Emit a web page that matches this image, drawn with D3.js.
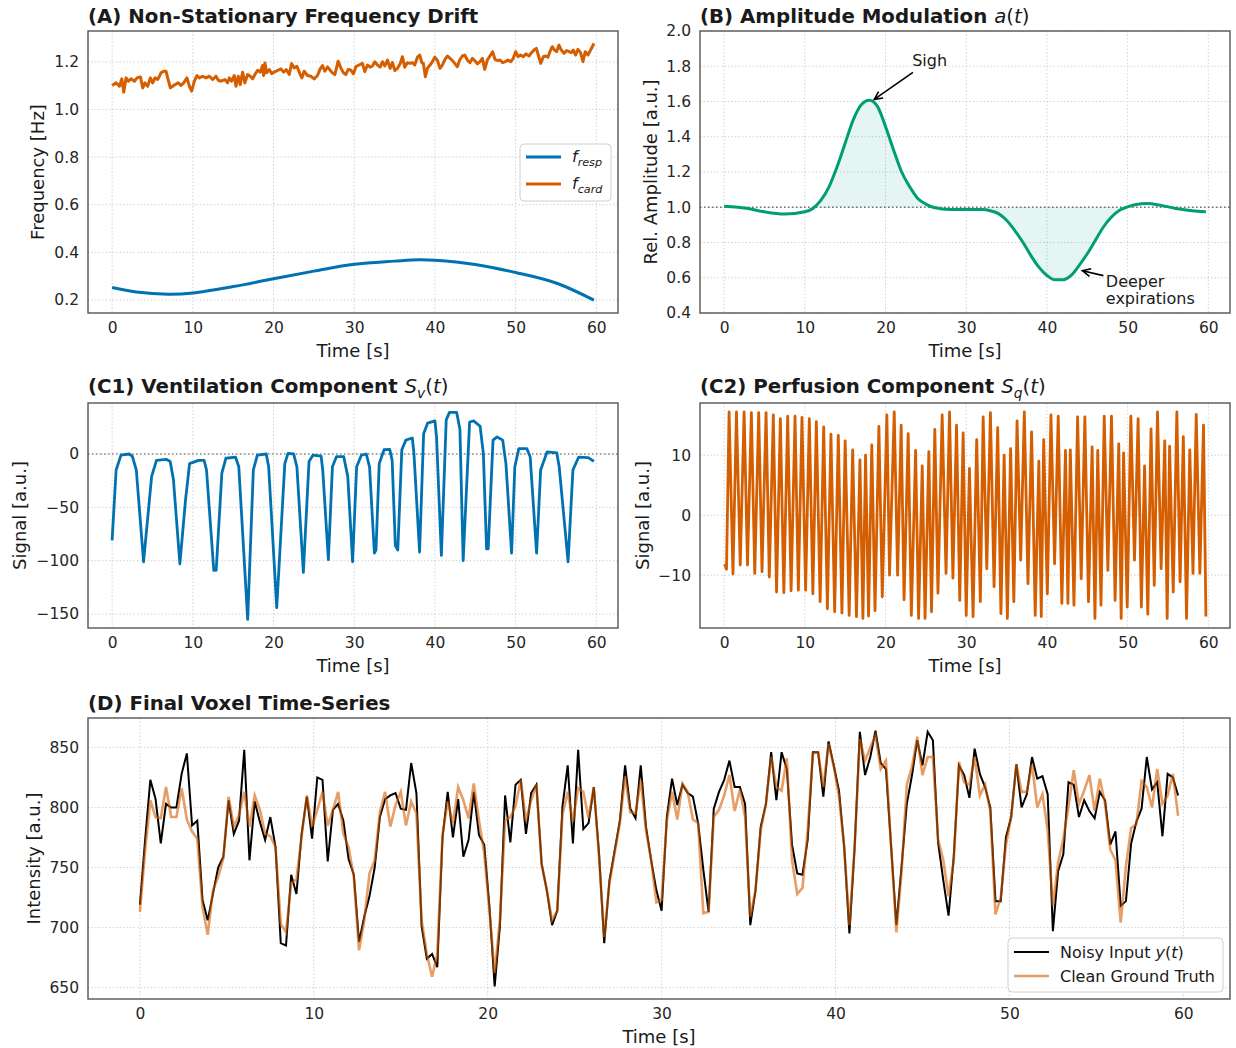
<!DOCTYPE html>
<html>
<head>
<meta charset="utf-8">
<script src="https://cdn.jsdelivr.net/npm/d3@7"></script>
<style>
  body { margin: 0; background: #fff; }
  text { font-family: "DejaVu Sans", sans-serif; fill: #1a1a1a; }
</style>
</head>
<body>
<div id="chart"></div>
<script>
// ---------- data ----------
var timeTicks = [0, 10, 20, 30, 40, 50, 60];

// (A) respiratory frequency, smooth drift
var respT = [0, 3, 7, 10, 15, 20, 25, 30, 35, 38, 40, 45, 50, 55, 59.7];
var respF = [0.252, 0.233, 0.224, 0.229, 0.256, 0.289, 0.321, 0.350, 0.363, 0.369, 0.367, 0.349, 0.315, 0.271, 0.199];

// (A) cardiac frequency, noisy drift
var cardT = [0.0,0.5,0.91,1.2,1.44,1.73,2.02,2.35,2.77,3.09,
  3.51,3.8,4.08,4.41,4.74,5.03,5.32,5.65,6.06,6.39,
  6.68,6.89,7.22,7.51,7.8,8.21,8.54,8.87,9.28,9.57,
  9.86,10.19,10.52,10.81,11.22,11.63,12.05,12.46,12.87,13.16,
  13.49,13.99,14.31,14.52,14.81,15.14,15.35,15.64,15.88,16.17,
  16.46,16.79,17.12,17.41,17.7,18.03,18.36,18.65,18.77,18.94,
  19.15,19.48,19.76,20.09,20.5,20.92,21.25,21.58,21.95,22.24,
  22.57,22.9,23.23,23.51,23.8,24.21,24.63,25.04,25.45,25.78,
  26.07,26.36,26.69,27.02,27.31,27.6,28.01,28.34,28.67,28.96,
  29.24,
  29.58,29.91,30.2,30.61,31.02,31.31,31.64,31.97,32.26,32.55,
  32.88,33.21,33.5,33.79,34.12,34.45,34.74,35.03,35.36,35.69,
  35.97,36.26,36.59,36.92,37.21,37.5,37.83,38.12,38.37,38.57,
  38.82,39.07,39.4,39.69,39.98,40.31,40.63,40.92,41.21,41.54,
  41.87,42.16,42.45,42.78,43.07,43.4,43.69,44.02,44.35,44.64,
  44.93,45.26,45.59,45.88,46.17,46.5,46.82,47.15,47.44,47.73,
  48.06,48.39,48.72,49.05,49.38,49.71,50.0,50.29,50.62,50.95,
  51.28,51.65,51.98,52.27,52.56,52.81,53.1,53.43,53.72,54.0,
  54.25,54.54,54.83,55.08,55.37,55.66,55.99,56.32,56.61,56.9,
  57.14,57.43,57.72,58.05,58.34,58.63,58.96,59.29,59.5,59.7];
var cardF = [1.101,1.112,1.098,1.129,1.073,1.133,1.119,1.129,1.119,1.133,
  1.137,1.091,1.112,1.098,1.133,1.112,1.133,1.126,1.154,1.161,
  1.161,1.133,1.091,1.098,1.105,1.112,1.101,1.112,1.133,1.098,
  1.077,1.119,1.143,1.133,1.14,1.133,1.14,1.126,1.14,1.123,
  1.119,1.126,1.112,1.133,1.119,1.143,1.098,1.14,1.105,1.157,
  1.112,1.147,1.14,1.129,1.147,1.165,1.157,1.185,1.143,1.196,
  1.154,1.168,1.151,1.157,1.164,1.171,1.157,1.168,1.147,1.193,
  1.175,1.182,1.154,1.133,1.161,1.143,1.14,1.129,1.143,1.171,
  1.185,1.161,1.179,1.165,1.154,1.147,1.203,1.175,1.154,1.147,
  1.168,
  1.166,1.15,1.18,1.187,1.194,1.159,1.187,1.178,1.183,1.201,
  1.187,1.178,1.201,1.183,1.208,1.173,1.197,1.164,1.173,1.192,
  1.222,1.178,1.197,1.194,1.197,1.187,1.22,1.229,1.197,1.194,
  1.138,1.173,1.187,1.201,1.22,1.206,1.173,1.187,1.208,1.225,
  1.215,1.206,1.194,1.18,1.208,1.225,1.229,1.208,1.197,1.215,
  1.206,1.192,1.201,1.215,1.169,1.208,1.225,1.243,1.211,1.206,
  1.208,1.197,1.201,1.208,1.201,1.215,1.243,1.222,1.229,1.222,
  1.234,1.225,1.239,1.25,1.257,1.229,1.194,1.222,1.225,1.22,
  1.243,1.264,1.25,1.243,1.271,1.25,1.236,1.248,1.243,1.239,
  1.25,1.229,1.253,1.239,1.201,1.243,1.229,1.25,1.264,1.278];

// (B) amplitude modulation a(t)
var ampT = [0,3,5,7.5,10,11,12,13,14,15,16,17,18,19,20,21,22,23,24,25,26,28,30,32,33,
  34,35,36,37,38,39,40,41,42,43,44,45,46,47,48,49,50,51,52.5,54,56,58,59.7];
var ampV = [1.006,0.993,0.974,0.961,0.974,0.993,1.04,1.116,1.23,1.363,1.496,1.582,1.607,1.572,1.458,
  1.325,1.20,1.116,1.05,1.018,0.999,0.987,0.987,0.987,0.98,0.964,0.926,0.869,0.803,0.727,
  0.66,0.613,0.588,0.588,0.613,0.67,0.736,0.812,0.888,0.945,0.983,1.002,1.016,1.021,1.012,
  0.993,0.98,0.974];
var sighRange = [10.8, 27];
var expRange = [32, 50.5];

// (C1) ventilation component, key vertices
var ventT = [0,0.5,1.1,2.1,2.5,3.0,3.9,4.9,5.5,6.7,7.2,7.6,8.4,9.1,9.6,10.7,11.4,11.7,12.6,12.9,
  13.6,14.1,15.3,15.7,16.8,17.5,18.0,19.1,19.4,20.4,21.4,21.8,22.5,22.9,23.7,24.4,24.9,25.9,26.1,26.8,
  27.3,27.8,28.7,29.2,29.8,30.3,30.9,31.5,31.9,32.5,32.7,33.1,33.7,34.4,34.7,35.1,35.4,35.9,36.4,37.2,
  37.4,38.1,38.6,39.1,40.0,40.2,40.8,41.4,41.8,42.7,43.1,43.5,44.3,44.8,45.6,46.0,46.4,46.6,47.2,47.7,
  48.4,48.8,49.5,49.9,50.4,51.4,51.8,52.6,53.1,53.9,55.1,55.4,56.5,57.1,57.8,59.0,59.7];
var ventV = [-81,-15,-1,0,-2,-15,-101,-21,-6,-5,-7,-24,-103,-43,-9,-6,-6,-15,-109,-109,
  -18,-4,-3,-12,-155,-15,-1,0,-12,-144,-9,0.6,0,-12,-111,-7,-1,-2,-15,-99,
  -12,-2.5,-2.5,-21,-101,-12,-1,0,-12,-93,-90,-9,4,4.4,-6,-86,-90,4,13,15,
  0.6,-92,19,29,31,16,-95,32,39,39,23,-100,30,31,26,0.6,-89,-89,13,16,
  13,-9,-93,-12,5,5,-2.5,-93,-15,2,1,-12,-101,-15,-3,-3.4,-7];

// (C2) perfusion component, successive peaks and troughs
var perfT = [0,0.15,0.3,0.62,1.1,1.53,2.0,2.48,2.9,3.38,3.8,4.29,4.7,5.2,5.6,6.1,6.5,6.97,7.4,7.88,
  8.3,8.79,9.2,9.65,10.1,10.56,11.0,11.43,11.9,12.34,12.8,13.24,13.7,14.15,14.6,15.0,15.5,15.93,16.4,16.83,
  17.2,17.53,17.9,18.3,18.7,19.18,19.6,20.17,20.5,21.08,21.5,21.94,22.3,22.81,23.2,23.73,24.1,24.55,24.9,25.37,
  25.7,26.11,26.5,27.02,27.5,27.93,28.35,28.8,29.2,29.62,30.0,30.4,30.85,31.3,31.75,32.1,32.55,33.0,33.45,33.9,
  34.3,34.7,35.1,35.5,35.9,36.3,36.75,37.2,37.65,38.1,38.55,39.0,39.3,39.6,40.05,40.5,40.95,41.4,41.85,42.3,
  42.6,42.9,43.35,43.8,44.25,44.7,45.15,45.6,45.95,46.3,46.7,47.1,47.55,48.0,48.45,48.9,49.2,49.5,49.95,50.4,
  50.85,51.3,51.7,52.1,52.5,52.9,53.3,53.7,54.15,54.6,54.9,55.2,55.65,56.1,56.5,56.9,57.3,57.7,58.1,58.5,
  58.95,59.4,59.7];
var perfV = [-8.2,-8.4,-9.0,17.2,-9.8,17.2,-8.3,17.2,-8.3,17.1,-9.7,17.1,-9.4,17.1,-10.3,16.7,-12.8,16.1,-12.9,16.5,
  -12.6,16.5,-12.5,16.3,-12.5,16.1,-13.1,15.6,-14.4,14.7,-15.6,13.5,-16.1,13.3,-16.3,12.4,-16.7,10.9,-16.9,9.2,
  -17.2,10.0,-16.8,11.7,-15.9,14.8,-13.6,16.7,-10.0,17.2,-10.0,15.0,-14.1,13.6,-16.7,10.8,-17.2,8.2,-17.2,10.6,
  -16.1,14.3,-13.0,16.7,-9.7,17.2,-10.5,15.0,-14.2,13.7,-16.7,7.8,-16.9,12.6,-14.4,16.4,-8.9,17.1,-11.9,14.6,
  -16.4,10.0,-17.2,11.1,-14.4,15.7,-7.5,17.2,-11.4,13.9,-16.7,9.0,-16.9,12.6,-13.1,16.7,-8.1,16.5,-14.7,10.8,
  -14.7,10.9,-15.0,16.4,-10.6,16.4,-14.4,11.4,-17.2,10.8,-15.0,16.5,-9.2,16.5,-14.2,11.9,-17.2,10.4,-15.3,16.5,
  -7.5,16.1,-15.3,8.2,-16.5,14.4,-11.7,17.2,-8.9,12.4,-17.2,11.5,-12.8,17.2,-11.1,13.1,-17.2,10.9,-9.7,16.8,
  -9.7,15.0,-16.9];

// (D) voxel time-series, one sample every 0.3 s
var sampleStep = 0.3;
var noisyY = [719,773,823,807,770,803,800,800,828,845,785,789,723,706,728,750,759,806,778,789,
  848,756,805,788,773,792,767,687,685,744,728,778,809,774,825,823,755,798,803,789,
  757,744,688,709,726,750,792,807,810,812,799,798,837,812,701,674,678,667,775,813,
  775,807,759,773,813,777,769,717,651,701,810,771,819,823,778,812,819,753,731,702,
  714,801,835,770,848,782,787,817,762,687,739,764,789,835,799,791,835,784,756,731,
  714,792,824,802,819,812,809,787,748,713,799,813,823,839,817,817,803,702,731,784,
  803,846,806,846,832,769,745,744,773,846,846,809,855,835,814,767,695,767,863,827,
  842,864,837,832,767,702,751,803,827,856,835,863,856,771,739,710,759,835,827,808,
  849,828,817,800,722,722,775,792,836,800,811,842,824,826,811,697,747,761,821,819,
  792,806,797,791,813,806,769,780,718,722,770,788,799,842,815,821,776,828,825,810];
var cleanY = [713,764,806,792,791,817,792,792,816,790,780,774,717,694,731,742,758,809,784,794,
  813,784,810,798,778,776,767,703,696,737,740,776,810,784,798,813,785,798,813,778,
  767,742,681,706,745,756,796,813,784,802,813,785,805,795,706,678,659,678,777,805,
  787,817,806,791,820,789,762,714,662,706,789,792,801,823,789,806,819,753,731,706,
  714,794,813,788,816,813,791,817,759,692,737,762,787,826,796,795,823,781,756,721,
  723,789,813,790,820,813,790,787,712,713,792,798,810,827,797,815,792,709,731,781,
  803,842,817,814,841,756,728,733,781,845,846,817,853,834,809,767,702,767,857,839,
  850,860,832,839,767,696,747,819,834,859,827,842,842,773,756,726,756,838,821,819,
  842,810,819,797,711,725,769,792,836,813,813,836,800,811,781,718,754,774,801,831,
  803,814,827,797,824,803,765,756,704,751,783,786,822,817,800,832,803,810,828,793];

// ---------- figure ----------
var blue = "#0072B2", vermillion = "#D55E00", green = "#009E73";
var tDomain = [-2.985, 62.685];

var svg = d3.select("#chart").append("svg")
    .attr("width", 1236)
    .attr("height", 1048);

function richText(parent, x, y, parts, size) {
    var t = parent.append("text")
        .attr("x", x).attr("y", y)
        .style("font-size", size + "px");
    parts.forEach(function (p) {
        var s = t.append("tspan").text(p.s);
        if (p.b) s.style("font-weight", "bold");
        if (p.i) s.style("font-style", "italic");
        if (p.sub) s.attr("dy", size * 0.25).style("font-size", (size * 0.7) + "px");
        if (p.back) s.attr("dy", -size * 0.25);
    });
    return t;
}

function makePanel(box, yDomain, yTicks, yFormat, yLabel, yLabelX) {
    var x = d3.scaleLinear().domain(tDomain).range([box.l, box.r]);
    var y = d3.scaleLinear().domain(yDomain).range([box.b, box.t]);
    var g = svg.append("g");

    // grid
    g.selectAll(".vgrid").data(timeTicks).enter().append("line")
        .attr("x1", function (d) { return x(d); })
        .attr("x2", function (d) { return x(d); })
        .attr("y1", box.t).attr("y2", box.b)
        .attr("stroke", "#c8c8c8").attr("stroke-width", 0.8)
        .attr("stroke-dasharray", "1.5,2");
    g.selectAll(".hgrid").data(yTicks).enter().append("line")
        .attr("x1", box.l).attr("x2", box.r)
        .attr("y1", function (d) { return y(d); })
        .attr("y2", function (d) { return y(d); })
        .attr("stroke", "#c8c8c8").attr("stroke-width", 0.8)
        .attr("stroke-dasharray", "1.5,2");

    var xAxis = g.append("g")
        .attr("transform", "translate(0," + box.b + ")")
        .call(d3.axisBottom(x).tickValues(timeTicks).tickSize(0).tickPadding(9).tickFormat(d3.format("d")));
    var yAxis = g.append("g")
        .attr("transform", "translate(" + box.l + ",0)")
        .call(d3.axisLeft(y).tickValues(yTicks).tickSize(0).tickPadding(9).tickFormat(d3.format(yFormat)));
    [xAxis, yAxis].forEach(function (a) {
        a.select(".domain").remove();
        a.selectAll("text")
            .style("font-family", "DejaVu Sans, sans-serif")
            .style("font-size", "15.5px")
            .style("fill", "#262626");
    });

    g.append("text")
        .attr("x", (box.l + box.r) / 2).attr("y", box.b + 44)
        .attr("text-anchor", "middle")
        .style("font-size", "18px")
        .text("Time [s]");
    g.append("text")
        .attr("transform", "translate(" + yLabelX + "," + ((box.t + box.b) / 2) + ") rotate(-90)")
        .attr("text-anchor", "middle")
        .style("font-size", "18px")
        .text(yLabel);

    return { x: x, y: y, g: g, box: box };
}

function drawFrame(p) {
    p.g.append("rect")
        .attr("x", p.box.l).attr("y", p.box.t)
        .attr("width", p.box.r - p.box.l).attr("height", p.box.b - p.box.t)
        .attr("fill", "none").attr("stroke", "#555").attr("stroke-width", 1.4);
}

function arrow(g, x1, y1, x2, y2) {
    var ang = Math.atan2(y2 - y1, x2 - x1), L = 9, w = 0.45;
    g.append("line").attr("x1", x1).attr("y1", y1).attr("x2", x2).attr("y2", y2)
        .attr("stroke", "#000").attr("stroke-width", 1.6);
    g.append("path")
        .attr("d", "M" + (x2 - L * Math.cos(ang - w)) + "," + (y2 - L * Math.sin(ang - w)) +
            "L" + x2 + "," + y2 +
            "L" + (x2 - L * Math.cos(ang + w)) + "," + (y2 - L * Math.sin(ang + w)))
        .attr("fill", "none").attr("stroke", "#000").attr("stroke-width", 1.6);
}

// ----- (A) -----
var pA = makePanel({ l: 88, r: 618, t: 31, b: 313 }, [0.145, 1.330],
    [0.2, 0.4, 0.6, 0.8, 1.0, 1.2], ".1f", "Frequency [Hz]", 44);
richText(svg, 88, 23, [{ s: "(A) Non-Stationary Frequency Drift", b: true }], 19.8);

var respLine = d3.line()
    .x(function (d, i) { return pA.x(respT[i]); })
    .y(function (d) { return pA.y(d); })
    .curve(d3.curveCatmullRom);
pA.g.append("path").attr("d", respLine(respF))
    .attr("fill", "none").attr("stroke", blue).attr("stroke-width", 3);

var cardLine = d3.line()
    .x(function (d, i) { return pA.x(cardT[i]); })
    .y(function (d) { return pA.y(d); });
pA.g.append("path").attr("d", cardLine(cardF))
    .attr("fill", "none").attr("stroke", vermillion).attr("stroke-width", 3)
    .attr("stroke-linejoin", "round");

var legA = pA.g.append("g");
legA.append("rect").attr("x", 520).attr("y", 144).attr("width", 91).attr("height", 57).attr("rx", 4)
    .attr("fill", "#fff").attr("fill-opacity", 0.85).attr("stroke", "#d0d0d0");
legA.append("line").attr("x1", 526).attr("x2", 561).attr("y1", 157).attr("y2", 157)
    .attr("stroke", blue).attr("stroke-width", 3);
legA.append("line").attr("x1", 526).attr("x2", 561).attr("y1", 184).attr("y2", 184)
    .attr("stroke", vermillion).attr("stroke-width", 3);
richText(legA, 572, 162, [{ s: "f", i: true }, { s: "resp", i: true, sub: true }], 16);
richText(legA, 572, 189, [{ s: "f", i: true }, { s: "card", i: true, sub: true }], 16);
drawFrame(pA);

// ----- (B) -----
var pB = makePanel({ l: 700, r: 1230, t: 31, b: 313 }, [0.4, 2.0],
    [0.4, 0.6, 0.8, 1.0, 1.2, 1.4, 1.6, 1.8, 2.0], ".1f", "Rel. Amplitude [a.u.]", 657);
richText(svg, 700, 23, [{ s: "(B) Amplitude Modulation ", b: true }, { s: "a", i: true }, { s: "(" },
    { s: "t", i: true }, { s: ")" }], 19.8);

var ampPts = ampT.map(function (t, i) { return { t: t, v: ampV[i] }; });
var ampArea = function (range) {
    return d3.area()
        .defined(function (d) { return d.t >= range[0] && d.t <= range[1]; })
        .x(function (d) { return pB.x(d.t); })
        .y0(pB.y(1))
        .y1(function (d) { return pB.y(d.v); })
        .curve(d3.curveMonotoneX);
};
[sighRange, expRange].forEach(function (r) {
    pB.g.append("path").attr("d", ampArea(r)(ampPts))
        .attr("fill", green).attr("fill-opacity", 0.1);
});
pB.g.append("line")
    .attr("x1", pB.box.l).attr("x2", pB.box.r)
    .attr("y1", pB.y(1)).attr("y2", pB.y(1))
    .attr("stroke", "#707070").attr("stroke-width", 1.3).attr("stroke-dasharray", "1.5,2.5");
var ampLine = d3.line()
    .x(function (d) { return pB.x(d.t); })
    .y(function (d) { return pB.y(d.v); })
    .curve(d3.curveMonotoneX);
pB.g.append("path").attr("d", ampLine(ampPts))
    .attr("fill", "none").attr("stroke", green).attr("stroke-width", 3);

arrow(pB.g, pB.x(23.4), pB.y(1.765), pB.x(18.6), pB.y(1.612));
pB.g.append("text").attr("x", pB.x(23.3)).attr("y", pB.y(1.80))
    .style("font-size", "16px").text("Sigh");
arrow(pB.g, pB.x(47.0), pB.y(0.612), pB.x(44.4), pB.y(0.640));
pB.g.append("text").attr("x", pB.x(47.3)).attr("y", pB.y(0.548))
    .style("font-size", "16px").text("Deeper");
pB.g.append("text").attr("x", pB.x(47.3)).attr("y", pB.y(0.451))
    .style("font-size", "16px").text("expirations");
drawFrame(pB);

// ----- (C1) -----
var pC1 = makePanel({ l: 88, r: 618, t: 403, b: 628 }, [-163.1, 47.8],
    [-150, -100, -50, 0], "d", "Signal [a.u.]", 26);
richText(svg, 88, 393, [{ s: "(C1) Ventilation Component ", b: true }, { s: "S", i: true },
    { s: "v", i: true, sub: true }, { s: "(", back: true }, { s: "t", i: true }, { s: ")" }], 19.8);
pC1.g.append("line")
    .attr("x1", pC1.box.l).attr("x2", pC1.box.r)
    .attr("y1", pC1.y(0)).attr("y2", pC1.y(0))
    .attr("stroke", "#8a8a8a").attr("stroke-width", 1.3).attr("stroke-dasharray", "1.5,2.5");
var ventLine = d3.line()
    .x(function (d, i) { return pC1.x(ventT[i]); })
    .y(function (d) { return pC1.y(d); });
pC1.g.append("path").attr("d", ventLine(ventV))
    .attr("fill", "none").attr("stroke", blue).attr("stroke-width", 2.8)
    .attr("stroke-linejoin", "round");
drawFrame(pC1);

// ----- (C2) -----
var pC2 = makePanel({ l: 700, r: 1230, t: 403, b: 628 }, [-18.8, 18.7],
    [-10, 0, 10], "d", "Signal [a.u.]", 649);
richText(svg, 700, 393, [{ s: "(C2) Perfusion Component ", b: true }, { s: "S", i: true },
    { s: "q", i: true, sub: true }, { s: "(", back: true }, { s: "t", i: true }, { s: ")" }], 19.8);
var perfLine = d3.line()
    .x(function (d, i) { return pC2.x(perfT[i]); })
    .y(function (d) { return pC2.y(d); });
pC2.g.append("path").attr("d", perfLine(perfV))
    .attr("fill", "none").attr("stroke", vermillion).attr("stroke-width", 2.8)
    .attr("stroke-linejoin", "round");
drawFrame(pC2);

// ----- (D) -----
var pD = makePanel({ l: 88, r: 1230, t: 718, b: 999 }, [640.5, 874.5],
    [650, 700, 750, 800, 850], "d", "Intensity [a.u.]", 40);
richText(svg, 88, 710, [{ s: "(D) Final Voxel Time-Series", b: true }], 19.8);
var seriesLine = d3.line()
    .x(function (d, i) { return pD.x(i * sampleStep); })
    .y(function (d) { return pD.y(d); });
pD.g.append("path").attr("d", seriesLine(noisyY))
    .attr("fill", "none").attr("stroke", "#000").attr("stroke-width", 2);
pD.g.append("path").attr("d", seriesLine(cleanY))
    .attr("fill", "none").attr("stroke", vermillion).attr("stroke-opacity", 0.6)
    .attr("stroke-width", 2.6);

var legD = pD.g.append("g");
legD.append("rect").attr("x", 1008).attr("y", 938).attr("width", 215).attr("height", 54).attr("rx", 4)
    .attr("fill", "#fff").attr("fill-opacity", 0.85).attr("stroke", "#d0d0d0");
legD.append("line").attr("x1", 1014).attr("x2", 1049).attr("y1", 952).attr("y2", 952)
    .attr("stroke", "#000").attr("stroke-width", 2);
legD.append("line").attr("x1", 1014).attr("x2", 1049).attr("y1", 976).attr("y2", 976)
    .attr("stroke", vermillion).attr("stroke-opacity", 0.6).attr("stroke-width", 2.6);
richText(legD, 1060, 958, [{ s: "Noisy Input " }, { s: "y", i: true }, { s: "(" }, { s: "t", i: true }, { s: ")" }], 16);
richText(legD, 1060, 982, [{ s: "Clean Ground Truth" }], 16);
drawFrame(pD);
</script>
</body>
</html>
